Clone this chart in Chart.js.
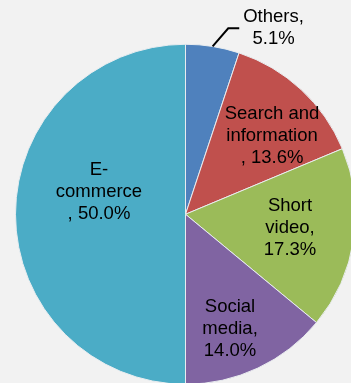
<!DOCTYPE html>
<html>
<head>
<meta charset="utf-8">
<script src="https://cdn.jsdelivr.net/npm/chart.js@4/dist/chart.umd.min.js"></script>
<style>
    html, body { margin: 0; padding: 0; background: #F2F2F2; }
    #wrap { width: 351px; height: 383px; overflow: hidden; position: relative; }
    #myChart { display: block; }
</style>
</head>
<body>
<div id="wrap"><canvas id="myChart" width="357" height="385"></canvas></div>
<script>
// Podíly kategorií (%)
var categories = ['Others', 'Search and information', 'Short video', 'Social media', 'E-commerce'];
var shares = [5.1, 13.6, 17.3, 14.0, 50.0];
var sliceColors = ['#4F81BD', '#C0504D', '#9BBB59', '#8064A2', '#4BACC6'];

// Zalomení popisků, {v} = hodnota
var labelLines = [
    ['Others,', '{v}'],
    ['Search and', 'information', ', {v}'],
    ['Short', 'video,', '{v}'],
    ['Social', 'media,', '{v}'],
    ['E-', 'commerce', ', {v}']
];

// Umístění popisků jako násobek poloměru od středu
var labelSpots = [
    [0.518, -1.094],
    [0.509, -0.459],
    [0.615, 0.079],
    [0.262, 0.674],
    [-0.509, -0.129]
];

var sliceLabels = {
    id: 'sliceLabels',
    afterDatasetsDraw: function (chart) {
        var ctx = chart.ctx;
        var meta = chart.getDatasetMeta(0);
        ctx.save();
        ctx.font = '18.5px "Liberation Sans", Arial, sans-serif';
        ctx.fillStyle = '#000000';
        ctx.textAlign = 'center';
        ctx.textBaseline = 'middle';
        meta.data.forEach(function (arc, i) {
            var r = arc.outerRadius;
            var cx = arc.x + labelSpots[i][0] * r;
            var cy = arc.y + labelSpots[i][1] * r;
            var lines = labelLines[i].map(function (t) {
                return t.replace('{v}', shares[i].toFixed(1) + '%');
            });
            var lh = 22;
            var top = cy - (lines.length - 1) * lh / 2;
            lines.forEach(function (t, k) {
                ctx.fillText(t, cx, top + k * lh);
            });

            // Odkazová čára pro malý výsek
            if (labelSpots[i][1] < -1) {
                var mid = (arc.startAngle + arc.endAngle) / 2;
                var x0 = arc.x + Math.cos(mid) * r;
                var y0 = arc.y + Math.sin(mid) * r;
                var ey = cy;
                var ex = x0 + (y0 - ey) * 0.86;
                ctx.beginPath();
                ctx.strokeStyle = '#000000';
                ctx.lineWidth = 2;
                ctx.moveTo(x0, y0);
                ctx.lineTo(ex, ey);
                ctx.lineTo(ex + 11, ey);
                ctx.stroke();
            }
        });
        ctx.restore();
    }
};

var ctx = document.getElementById('myChart');

if (ctx) {
    var myChart = new Chart(ctx, {
        type: 'pie',
        data: {
            labels: categories,
            datasets: [{
                data: shares,
                backgroundColor: sliceColors,
                borderColor: '#E8ECEF',
                borderWidth: 1
            }]
        },
        options: {
            responsive: false,
            animation: false,
            layout: {
                padding: { left: 15, top: 43.5, right: 1, bottom: 0 }
            },
            plugins: {
                legend: { display: false },
                tooltip: { enabled: false }
            }
        },
        plugins: [sliceLabels]
    });
} else {
    console.error("Canvas element with ID 'myChart' not found.");
}
</script>
</body>
</html>
